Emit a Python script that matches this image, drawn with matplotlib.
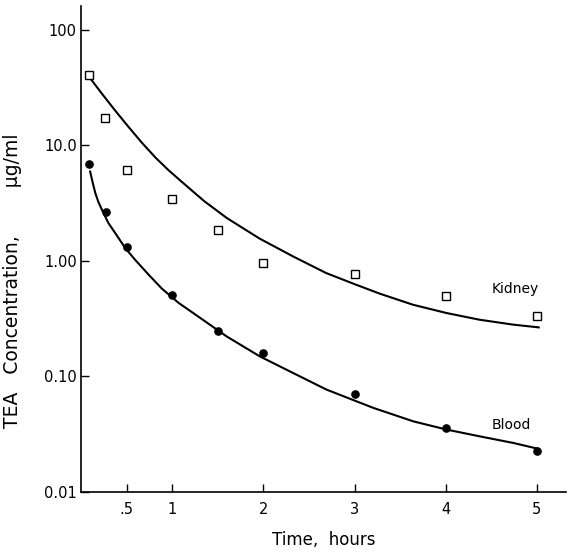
import numpy as np
import matplotlib
matplotlib.use("Agg")
import matplotlib.pyplot as plt

plt.rcParams['font.family'] = ['DejaVu Sans']

# measured points (hours, ug/ml)
kidney_t = [0.09, 0.26, 0.5, 1.0, 1.5, 2.0, 3.0, 4.0, 5.0]
kidney_c = [41.0, 17.2, 6.15, 3.45, 1.86, 0.96, 0.764, 0.50, 0.336]
blood_t = [0.09, 0.27, 0.5, 1.0, 1.5, 2.0, 3.0, 4.0, 5.0]
blood_c = [6.85, 2.65, 1.32, 0.51, 0.25, 0.16, 0.071, 0.0358, 0.0226]

# fitted curves
kidney_fit_t = [0.10, 0.23, 0.38, 0.52, 0.67, 0.82, 0.96, 1.1, 1.35, 1.6,
                1.96, 2.33, 2.69, 3.0, 3.28, 3.64, 4.01, 4.37, 4.74, 5.02]
kidney_fit_c = [38.2, 28.0, 19.8, 14.5, 10.5, 7.8, 6.1, 4.88, 3.30, 2.35,
                1.56, 1.09, 0.785, 0.63, 0.52, 0.418, 0.354, 0.31, 0.281, 0.266]
blood_fit_t = [0.10, 0.13, 0.157, 0.19, 0.23, 0.30, 0.376, 0.486, 0.595,
               0.742, 0.888, 1.071, 1.231, 1.598, 1.963, 2.328, 2.694,
               3.205, 3.644, 4.01, 4.375, 4.74, 5.01]
blood_fit_c = [5.94, 4.7, 3.87, 3.25, 2.77, 2.13, 1.74, 1.29, 1.02,
               0.76, 0.575, 0.433, 0.354, 0.222, 0.149, 0.107, 0.0769,
               0.0535, 0.0409, 0.0347, 0.0303, 0.0266, 0.0237]

xticks = [0.5, 1, 2, 3, 4, 5]
xticklabels = ['.5', '1', '2', '3', '4', '5']
yticks = [0.01, 0.1, 1, 10, 100]
yticklabels = ['0.01', '0.10', '1.00', '10.0', '100']

fig = plt.figure(figsize=(5.68, 5.54), dpi=100)
ax = fig.add_axes([0.1426, 0.1119, 0.854, 0.8773])

ax.plot(kidney_fit_t, kidney_fit_c, color='black', lw=1.5, solid_joinstyle='round')
ax.plot(blood_fit_t, blood_fit_c, color='black', lw=1.5, solid_joinstyle='round')
ax.plot(kidney_t, kidney_c, 's', ms=5.2, mfc='white', mec='black', mew=1.0)
ax.plot(blood_t, blood_c, 'o', ms=5.2, mfc='black', mec='black')

ax.set_yscale('log')
ax.set_xlim(0, 5.32)
ax.set_ylim(0.01, 161)

ax.set_xticks(xticks)
ax.set_xticklabels(xticklabels)
ax.set_yticks(yticks)
ax.set_yticklabels(yticklabels)
ax.minorticks_off()
ax.tick_params(direction='in', length=6, width=1.0, labelsize=10.5)
ax.tick_params(axis='y', pad=3)
ax.tick_params(axis='x', pad=7)

for s in ['top', 'right']:
    ax.spines[s].set_visible(False)
for s in ['left', 'bottom']:
    ax.spines[s].set_linewidth(1.2)

ax.text(4.50, 0.575, 'Kidney', fontsize=10, va='center', ha='left')
ax.text(4.50, 0.0379, 'Blood', fontsize=10, va='center', ha='left')

ax.set_xlabel('Time,  hours', fontsize=12, labelpad=10)
ax.set_ylabel('TEA   Concentration,        \u03bcg/ml', fontsize=13.5)
ax.yaxis.set_label_coords(-0.122, 0.435)

fig.savefig('out.png', dpi=100)
